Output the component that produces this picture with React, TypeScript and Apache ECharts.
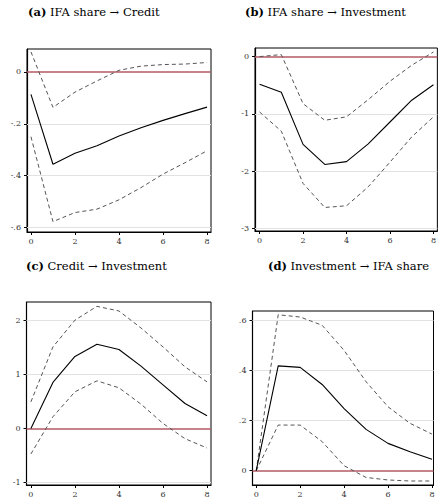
import React, { useEffect, useRef } from "react";
import * as echarts from "echarts";

const horizons = [0, 1, 2, 3, 4, 5, 6, 7, 8];
const xTicks = [0, 2, 4, 6, 8];

// (a) IFA share -> Credit
const aMean = [-0.087, -0.356, -0.314, -0.285, -0.247, -0.215, -0.187, -0.161, -0.136];
const aUpper = [0.077, -0.137, -0.078, -0.035, 0.006, 0.022, 0.028, 0.030, 0.036];
const aLower = [-0.25, -0.577, -0.542, -0.529, -0.493, -0.446, -0.394, -0.35, -0.304];
const aTicks = [0, -0.2, -0.4, -0.6];

// (b) IFA share -> Investment
const bMean = [-0.48, -0.62, -1.53, -1.88, -1.83, -1.52, -1.14, -0.76, -0.49];
const bUpper = [0.0, 0.035, -0.82, -1.11, -1.05, -0.75, -0.43, -0.15, 0.08];
const bLower = [-0.965, -1.3, -2.21, -2.63, -2.6, -2.27, -1.84, -1.4, -1.05];
const bTicks = [0, -1, -2, -3];

// (c) Credit -> Investment
const cMean = [0, 0.85, 1.33, 1.555, 1.457, 1.15, 0.805, 0.46, 0.234];
const cUpper = [0.49, 1.506, 2.0, 2.256, 2.17, 1.856, 1.506, 1.137, 0.86];
const cLower = [-0.473, 0.215, 0.676, 0.879, 0.75, 0.449, 0.092, -0.19, -0.363];
const cTicks = [2, 1, 0, -1];

// (d) Investment -> IFA share
const dMean = [0, 0.418, 0.412, 0.344, 0.248, 0.165, 0.109, 0.076, 0.046];
const dUpper = [0, 0.622, 0.613, 0.58, 0.48, 0.355, 0.255, 0.189, 0.146];
const dLower = [0, 0.182, 0.182, 0.116, 0.02, -0.027, -0.037, -0.041, -0.041];
const dTicks = [0.6, 0.4, 0.2, 0];

const titles = [
  { tag: "(a)", text: "IFA share \u2192 Credit" },
  { tag: "(b)", text: "IFA share \u2192 Investment" },
  { tag: "(c)", text: "Credit \u2192 Investment" },
  { tag: "(d)", text: "Investment \u2192 IFA share" },
];

const FONT = "'DejaVu Serif', serif";

const fmt = (v: number) => (v === 0 ? "0" : String(v).replace("0.", "."));

const pair = (ys: number[]) => horizons.map((h, i) => [h, ys[i]]);

export default function App() {
  const ref = useRef<HTMLDivElement>(null);
  useEffect(() => {
    if (!ref.current) return;
    const chart = echarts.init(ref.current, undefined, { renderer: "svg" });

    const panels = [
      { mean: aMean, up: aUpper, lo: aLower, ticks: aTicks, grid: { left: 27, top: 49, width: 184, height: 183 }, x: [-0.18, 8.18], y: [-0.617, 0.088], title: [28, 6] },
      { mean: bMean, up: bUpper, lo: bLower, ticks: bTicks, grid: { left: 255, top: 48, width: 184, height: 183 }, x: [-0.21, 8.18], y: [-3.04, 0.15], title: [245, 6] },
      { mean: cMean, up: cUpper, lo: cLower, ticks: cTicks, grid: { left: 26.5, top: 302, width: 184.5, height: 183 }, x: [-0.2, 8.18], y: [-1.046, 2.336], title: [26, 260] },
      { mean: dMean, up: dUpper, lo: dLower, ticks: dTicks, grid: { left: 252.5, top: 311, width: 181, height: 174 }, x: [-0.17, 8.07], y: [-0.057, 0.637], title: [268, 260] },
    ];

    const grid: any[] = [];
    const xAxis: any[] = [];
    const yAxis: any[] = [];
    const series: any[] = [];
    const title: any[] = [];

    panels.forEach((p, i) => {
      grid.push({ ...p.grid, show: true, borderColor: "#000", borderWidth: 1, backgroundColor: "transparent" });
      xAxis.push({
        type: "value", gridIndex: i, min: p.x[0], max: p.x[1],
        axisLine: { show: true, onZero: false, lineStyle: { color: "#000", width: 1.2 } },
        axisTick: { show: true, length: 3, customValues: xTicks, lineStyle: { color: "#000" } },
        axisLabel: { customValues: xTicks, fontFamily: FONT, fontSize: 8, color: "#333", margin: 5, formatter: (v: number) => fmt(v) },
        splitLine: { show: false },
      });
      yAxis.push({
        type: "value", gridIndex: i, min: p.y[0], max: p.y[1],
        axisLine: { show: true, onZero: false, lineStyle: { color: "#000", width: 1.2 } },
        axisTick: { show: true, length: 3, customValues: p.ticks, lineStyle: { color: "#000" } },
        axisLabel: { customValues: p.ticks, fontFamily: FONT, fontSize: 8, color: "#333", margin: 6, formatter: (v: number) => fmt(v) },
        splitLine: { show: false },
      });
      const gridLines = p.ticks.filter((t) => t !== 0).map((t) => ({ yAxis: t, lineStyle: { color: "#e2e2e2", width: 1, type: "solid" } }));
      series.push({
        type: "line", xAxisIndex: i, yAxisIndex: i, data: pair(p.up), symbol: "none",
        lineStyle: { color: "#555", width: 1, type: [4, 3] }, z: 3,
        markLine: {
          silent: true, symbol: "none", label: { show: false }, z: 1,
          data: [...gridLines, { yAxis: 0, lineStyle: { color: "#b35a66", width: 1.5, type: "solid" } }],
        },
      });
      series.push({
        type: "line", xAxisIndex: i, yAxisIndex: i, data: pair(p.lo), symbol: "none",
        lineStyle: { color: "#555", width: 1, type: [4, 3] }, z: 3,
      });
      series.push({
        type: "line", xAxisIndex: i, yAxisIndex: i, data: pair(p.mean), symbol: "none",
        lineStyle: { color: "#000", width: 1.1, type: "solid" }, z: 4,
      });
      title.push({
        left: p.title[0], top: p.title[1], padding: 0,
        text: `{b|${titles[i].tag}} ${titles[i].text}`,
        textStyle: {
          fontFamily: FONT, fontSize: 11.5, fontWeight: "normal", color: "#000",
          rich: { b: { fontFamily: FONT, fontSize: 11.5, fontWeight: "bold", color: "#000" } },
        },
      });
    });

    chart.setOption({ animation: false, backgroundColor: "#fff", title, grid, xAxis, yAxis, series });
    return () => chart.dispose();
  }, []);
  return <div ref={ref} style={{ position: "fixed", left: 0, top: 0, width: 439, height: 500 }} />;
}
